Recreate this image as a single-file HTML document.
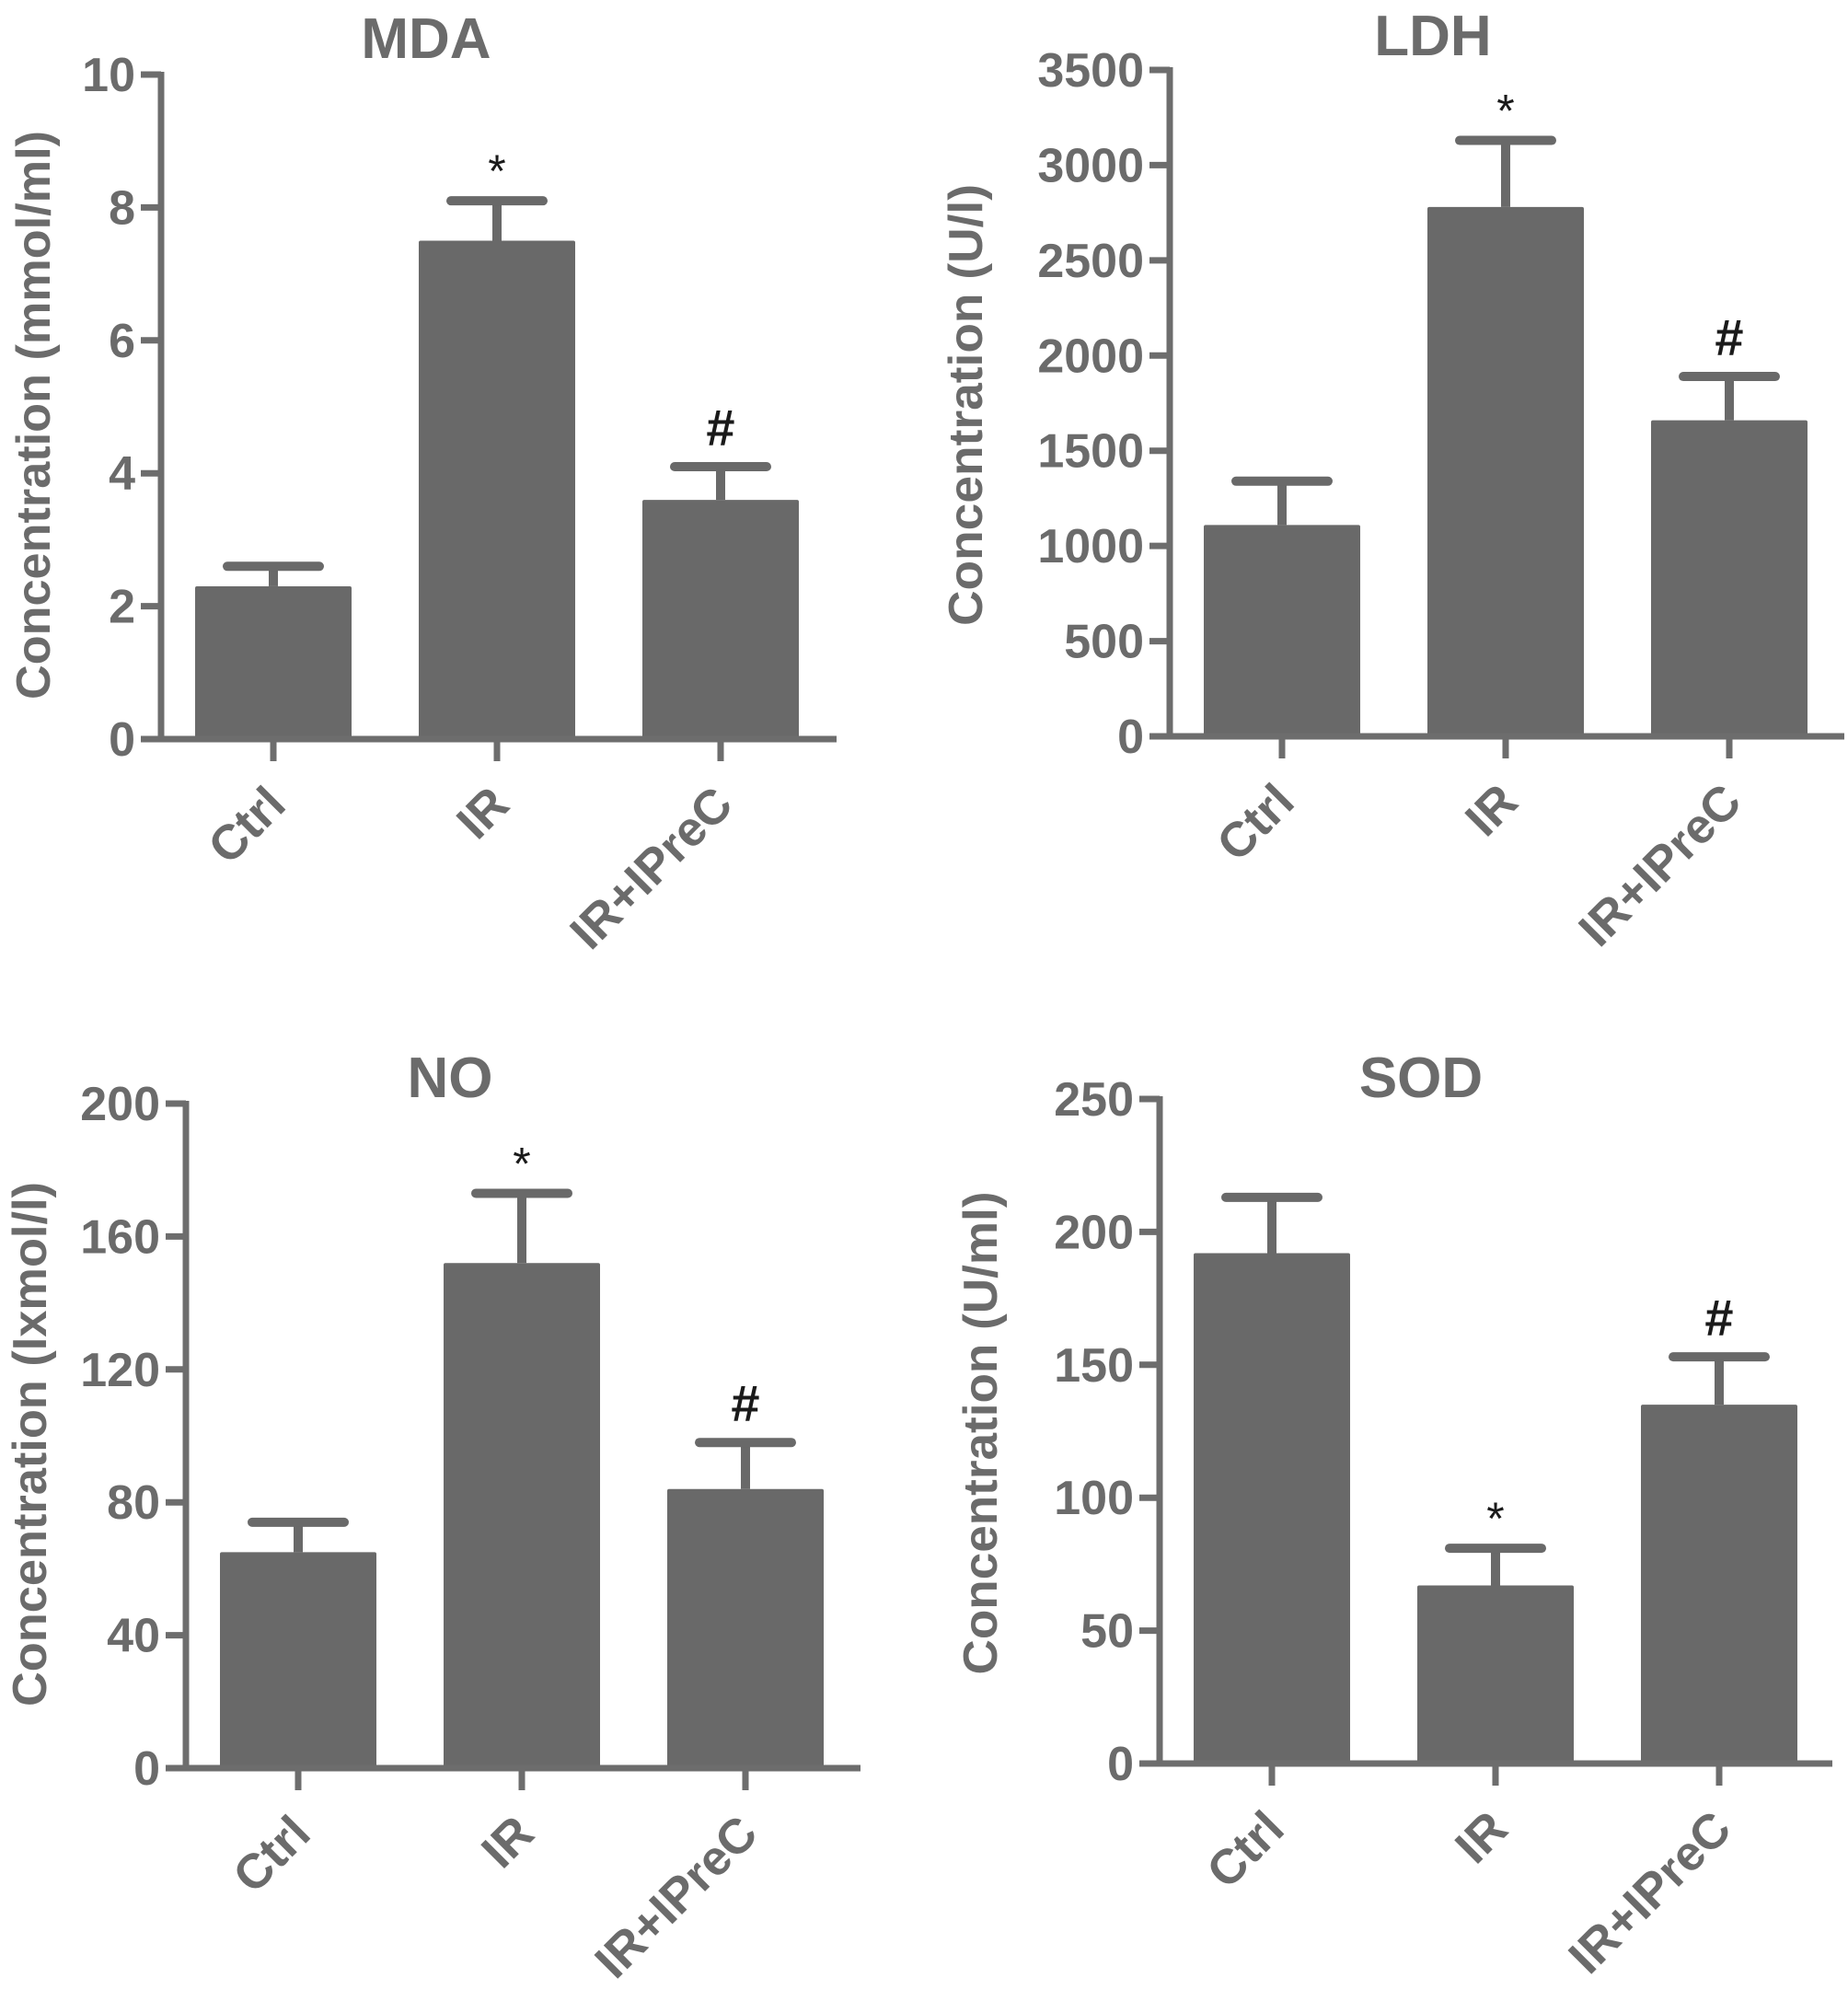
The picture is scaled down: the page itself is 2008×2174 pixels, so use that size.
<!DOCTYPE html>
<html><head><meta charset="utf-8">
<style>
html,body{margin:0;padding:0;background:#fff;}
svg{display:block;font-family:"Liberation Sans",Arial,sans-serif;}
</style></head>
<body>
<svg id="fig" width="2008" height="2174" viewBox="0 0 2008 2174" xmlns="http://www.w3.org/2000/svg"></svg>
<script>
const categories = ["Ctrl", "IR", "IR+IPreC"];
const mdaValues = [2.3, 7.5, 3.6];
const mdaErrors = [0.3, 0.6, 0.5];
const mdaTicks = [0, 2, 4, 6, 8, 10];
const ldhValues = [1110, 2780, 1660];
const ldhErrors = [230, 350, 230];
const ldhTicks = [0, 500, 1000, 1500, 2000, 2500, 3000, 3500];
const noValues = [65, 152, 84];
const noErrors = [9, 21, 14];
const noTicks = [0, 40, 80, 120, 160, 200];
const sodValues = [192, 67, 135];
const sodErrors = [21, 14, 18];
const sodTicks = [0, 50, 100, 150, 200, 250];
const mdaMarks = ["", "*", "#"];
const ldhMarks = ["", "*", "#"];
const noMarks = ["", "*", "#"];
const sodMarks = ["", "*", "#"];

const NS = "http://www.w3.org/2000/svg";
const svg = document.getElementById("fig");
const BAR = "#696969", AX = "#6d6d6d", TXT = "#6b6b6b";

function mk(tag, attrs, parent) {
  const e = document.createElementNS(NS, tag);
  for (const k in attrs) e.setAttribute(k, attrs[k]);
  parent.appendChild(e);
  return e;
}

function panel(cfg) {
  const g = mk("g", {}, svg);
  
  
  const maxV = cfg.ticks[cfg.ticks.length - 1];
  const yScale = v => cfg.y0 - (v / maxV) * (cfg.y0 - cfg.yTop);
  const xScale = i => cfg.ax + 122 + i * 243;

  const title = mk("text", {x: cfg.titleX, y: cfg.titleY + 22, "text-anchor": "middle", "font-size": 62, "font-weight": "bold", fill: TXT}, g);
  title.textContent = cfg.title;
  
  

  const yt = mk("text", {x: 0, y: 0, "text-anchor": "middle", "font-size": 52, "font-weight": "bold", fill: TXT,
    transform: "translate(" + (cfg.ytX + 18) + "," + cfg.ytY + ") rotate(-90)", textLength: cfg.ytLen, lengthAdjust: "spacingAndGlyphs"}, g);
  yt.textContent = cfg.ytitle;
  
  

  cfg.values.forEach((v, i) => {
    const cx = xScale(i), top = yScale(v), capY = yScale(v + cfg.errors[i]);
    const eb = mk("line", {x1: cx, x2: cx, y1: top, y2: capY, stroke: BAR, "stroke-width": 10}, g);
    
    
    const cap = mk("line", {x1: cx - 50, x2: cx + 50, y1: capY, y2: capY, stroke: BAR, "stroke-width": 10, "stroke-linecap": "round"}, g);
    
    
    const r = mk("rect", {x: cx - 85, y: top, width: 170, height: cfg.y0 - top, fill: BAR, rx: 2}, g);
    
    
    const m = cfg.marks[i];
    if (m) {
      const t = mk("text", {x: cx, y: m === "*" ? capY - 15 : capY - 23, "text-anchor": "middle",
        "font-size": m === "*" ? 50 : 56, "font-weight": m === "*" ? "normal" : "bold", fill: "#1a1a1a"}, g);
      t.textContent = m;
      
      
    }
    const xt = mk("line", {x1: cx, x2: cx, y1: cfg.y0, y2: cfg.y0 + 24, stroke: AX, "stroke-width": 7}, g);
    
    
    const lx = cx + 16, ly = cfg.y0 + 74;
    const lab = mk("text", {x: 0, y: 0, "text-anchor": "end", "font-size": 53, "font-weight": "bold", fill: TXT,
      transform: "translate(" + lx + "," + ly + ") rotate(-45)"}, g);
    lab.textContent = categories[i];
    
    
  });

  const ya = mk("line", {x1: cfg.ax, x2: cfg.ax, y1: cfg.yTop - 3, y2: cfg.y0 + 3, stroke: AX, "stroke-width": 7}, g);
  
  
  const xa = mk("line", {x1: cfg.ax - 22, x2: cfg.right, y1: cfg.y0, y2: cfg.y0, stroke: AX, "stroke-width": 7}, g);
  
  

  cfg.ticks.forEach(t => {
    const y = yScale(t);
    const tk = mk("line", {x1: cfg.ax - 22, x2: cfg.ax, y1: y, y2: y, stroke: AX, "stroke-width": 7}, g);
    
    
    const tl = mk("text", {x: cfg.ax - 28, y: y + 18, "text-anchor": "end", "font-size": 52, "font-weight": "bold", fill: TXT}, g);
    tl.textContent = t;
    
    
  });
}

panel({name: "mda", title: "MDA", titleX: 463, titleY: 41, ytitle: "Concentration (mmol/ml)", ytX: 36, ytY: 451, ytLen: 618,
  ax: 175, y0: 803, yTop: 81, right: 909, values: mdaValues, errors: mdaErrors, ticks: mdaTicks, marks: mdaMarks});
panel({name: "ldh", title: "LDH", titleX: 1557, titleY: 38, ytitle: "Concentration (U/l)", ytX: 1049, ytY: 440, ytLen: 480,
  ax: 1271, y0: 800, yTop: 76, right: 2004, values: ldhValues, errors: ldhErrors, ticks: ldhTicks, marks: ldhMarks});
panel({name: "no", title: "NO", titleX: 489, titleY: 1170, ytitle: "Concentration (Ixmol/l)", ytX: 32, ytY: 1569, ytLen: 570,
  ax: 202, y0: 1921, yTop: 1199, right: 935, values: noValues, errors: noErrors, ticks: noTicks, marks: noMarks});
panel({name: "sod", title: "SOD", titleX: 1544, titleY: 1170, ytitle: "Concentration (U/ml)", ytX: 1065, ytY: 1557, ytLen: 525,
  ax: 1260, y0: 1916, yTop: 1194, right: 1991, values: sodValues, errors: sodErrors, ticks: sodTicks, marks: sodMarks});
</script>
</body></html>
